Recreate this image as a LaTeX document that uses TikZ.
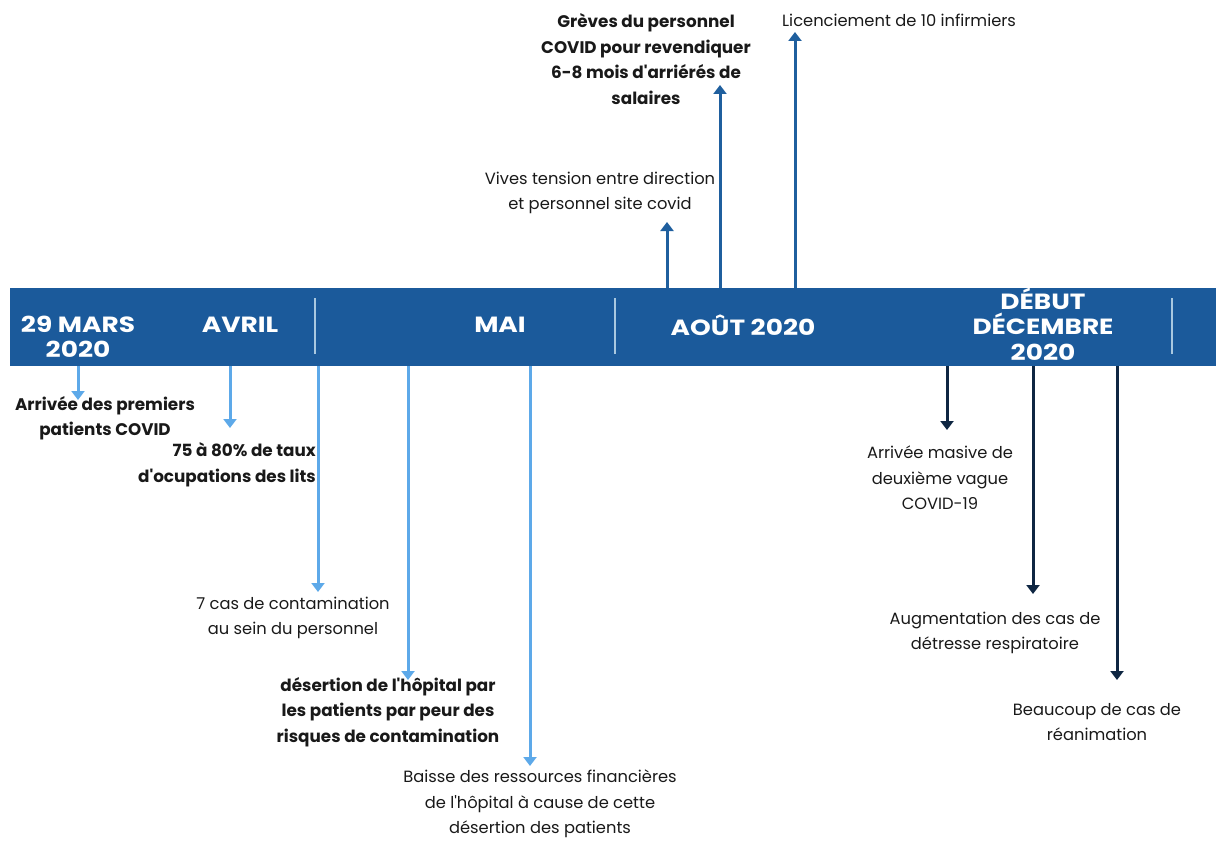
\documentclass[tikz,border=0pt]{standalone}
\usepackage{fontspec}
\setmainfont{Poppins}[Ligatures=TeXOff]
\newfontfamily\titre{Poppins}[FakeStretch=1.2]
\usepackage{xcolor}
\usetikzlibrary{arrows.meta, positioning}
\definecolor{bandeBleu}{HTML}{1B5A9B}
\definecolor{bleuClair}{HTML}{5DA9E9}
\definecolor{bleuMoyen}{HTML}{1F5F9E}
\definecolor{bleuNuit}{HTML}{0E2642}
\definecolor{trait}{HTML}{A9C8E0}

\begin{document}
\begin{tikzpicture}[x=1pt, y=-1pt, >={Triangle[width=13pt,length=9pt]},
    mois/.style={text=white, font=\titre\fontsize{22}{25.5}\selectfont\bfseries, align=center, inner sep=0pt},
    evt/.style={text=black!90, font=\fontsize{16.3}{25.5}\selectfont, align=center, inner sep=1pt},
    evtgras/.style={evt, font=\fontsize{16.8}{25.5}\selectfont\bfseries},
    flC/.style={->, line width=3pt, bleuClair},
    flM/.style={->, line width=3pt, bleuMoyen},
    flN/.style={->, line width=3pt, bleuNuit}]
    \useasboundingbox (0,0) rectangle (1216,843);

    % la frise
    \node[fill=bandeBleu, minimum width=1206pt, minimum height=78pt, inner sep=0pt] (frise) at (613,327) {};
    \foreach \x in {315, 615, 1172}
        \draw[trait, line width=1.5pt] (\x,298) -- (\x,354);

    \node[mois] (mars) at (78,337) {29 MARS\\2020};
    \node[mois] (avril) at (240,325) {AVRIL};
    \node[mois] (mai) at (500,325) {MAI};
    \node[mois] (aout) at (743,325) {AOÛT 2020};
    \node[mois] (dec) at (1043,324) {DÉBUT\\DÉCEMBRE\\2020};

    % événements sous la frise (premiere vague)
    \node[evtgras] (e1) at (105,418) {Arrivée des premiers\\patients COVID};
    \node[evtgras, anchor=east, align=right] (e2) at (317,465) {75 à 80\% de taux\\d'ocupations des lits};
    \node[evt] (e3) at (293,618) {7 cas de contamination\\au sein du personnel};
    \node[evtgras] (e4) at (388,712) {désertion de l'hôpital par\\les patients par peur des\\risques de contamination};
    \node[evt] (e5) at (540,804) {Baisse des ressources financières\\de l'hôpital à cause de cette\\désertion des patients};

    \coordinate (a1) at (78,400);
    \coordinate (a2) at (230,428);
    \coordinate (a3) at (318,592);
    \coordinate (a4) at (408,680);
    \coordinate (a5) at (530,766);
    \foreach \a in {a1,a2,a3,a4,a5}
        \draw[flC] (frise.south -| \a) -- (\a);

    % événements au-dessus (août)
    \node[evt] (e6) at (600,193) {Vives tension entre direction\\et personnel site covid};
    \node[evtgras] (e7) at (646,59) {Grèves du personnel\\COVID pour revendiquer\\6-8 mois d'arriérés de\\salaires};
    \node[evt, anchor=west] (e8) at (781,20) {Licenciement de 10 infirmiers};

    \coordinate (a6) at (667,222);
    \coordinate (a7) at (720,85);
    \coordinate (a8) at (795,32);
    \foreach \a in {a6,a7,a8}
        \draw[flM] (frise.north -| \a) -- (\a);

    % deuxième vague
    \node[evt] (e9) at (940,478) {Arrivée masive de\\deuxième vague\\COVID-19};
    \node[evt] (e10) at (995,633) {Augmentation des cas de\\détresse respiratoire};
    \node[evt] (e11) at (1097,722) {Beaucoup de cas de\\réanimation};

    \coordinate (a9) at (947,430);
    \coordinate (a10) at (1033,594);
    \coordinate (a11) at (1117,680);
    \foreach \a in {a9,a10,a11}
        \draw[flN] (frise.south -| \a) -- (\a);
\end{tikzpicture}
\end{document}
